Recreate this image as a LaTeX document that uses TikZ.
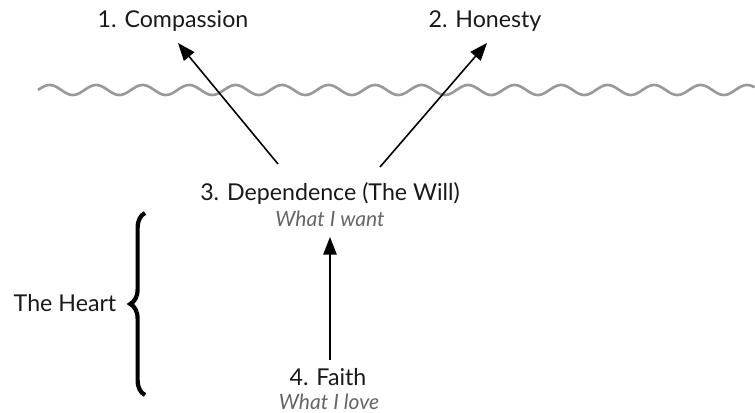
\documentclass[tikz,border=0pt]{standalone}
\usepackage{fontspec}
\setmainfont{Lato}
\usetikzlibrary{arrows.meta,decorations.pathreplacing}

\begin{document}
\begin{tikzpicture}[
    lbl/.style={anchor=base, inner sep=0pt, font=\fontsize{6.6}{8}\selectfont, text=black!90},
    sub/.style={anchor=base, inner sep=0pt, font=\fontsize{6}{7}\selectfont\itshape, text=black!60},
    arr/.style={-{Triangle[length=5pt,width=3.8pt]}, line width=0.45pt}]
            \useasboundingbox (0,0) rectangle (7.55,-4.13);

            % Define labels
            \node[lbl] (comp) at (1.73,-0.28) {1. Compassion};
            \node[lbl] (hon) at (4.85,-0.28) {2. Honesty};
            \node[lbl] (dep) at (3.30,-2.01) {3. Dependence (The Will)};
            \node[sub] (want) at (3.30,-2.27) {What I want};
            \node[lbl] (faith) at (3.28,-3.86) {4. Faith};
            \node[sub] (love) at (3.29,-4.10) {What I love};
            \node[lbl] (heart) at (0.65,-3.12) {The Heart};

            % Arrow ends
            \coordinate (depl) at (2.78,-1.64);
            \coordinate (depr) at (3.80,-1.67);
            \coordinate (compend) at (1.78,-0.43);
            \coordinate (honend) at (4.87,-0.43);
            \coordinate (wantend) at (3.30,-2.37);
            \coordinate (faithend) at (3.30,-3.60);

            % Water line
            \draw[black!40, line width=0.75pt] plot[domain=0.38:7.55, samples=400, smooth]
                (\x,{-0.90+0.05*sin(360*(\x-0.38)/0.465)});

            % Draw arrows
            \draw[arr] (depl) -- (compend);
            \draw[arr] (depr) -- (honend);
            \draw[arr] (faithend) -- (wantend);

            % Brace for the heart
            \draw[decorate, decoration={brace, amplitude=4.2pt}, line width=1.2pt]
                (1.45,-3.95) -- (1.45,-2.13);
        \end{tikzpicture}
\end{document}
